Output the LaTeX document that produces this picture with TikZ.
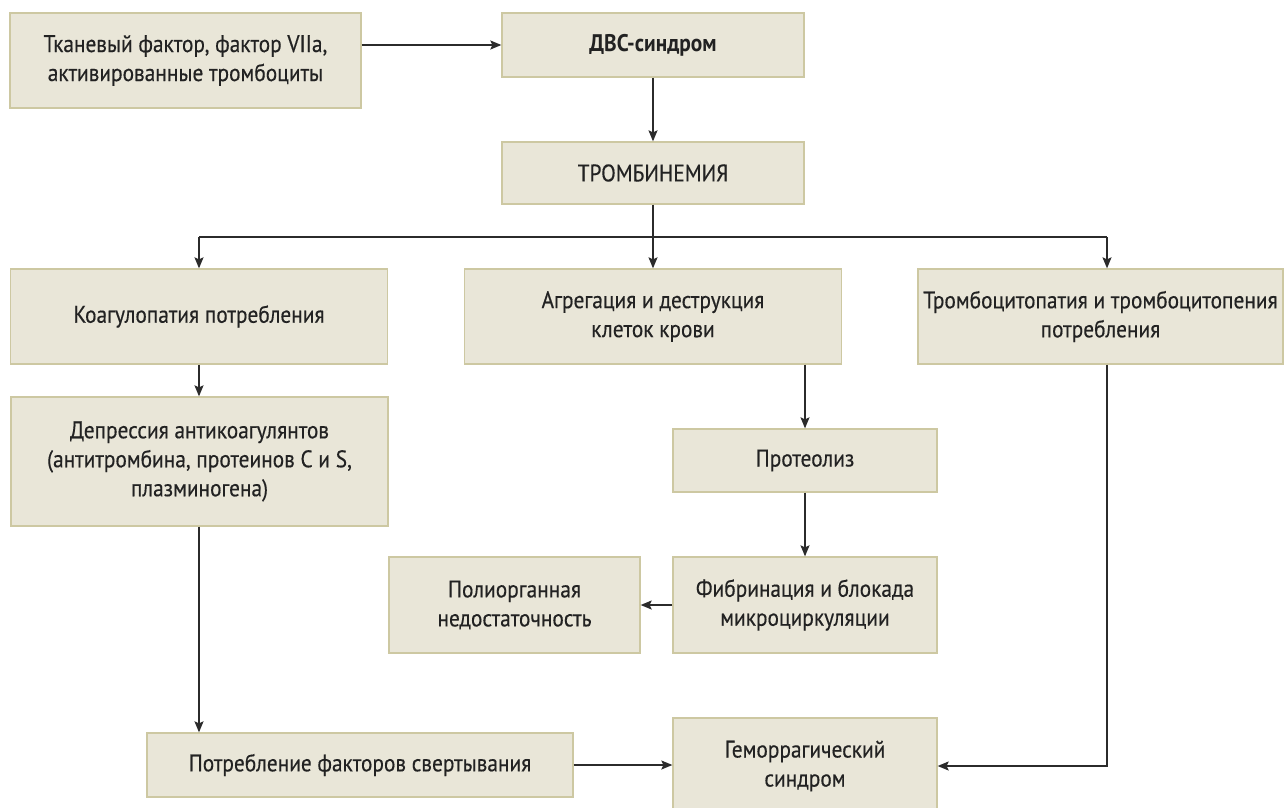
\documentclass[tikz,border=0pt]{standalone}
\usepackage{fontspec}
\setmainfont{PT Sans}[FakeStretch=0.89,FakeBold=0.35,BoldFeatures={FakeBold=0}]
\usetikzlibrary{arrows.meta}
\definecolor{boxfill}{HTML}{E9E6D8}
\definecolor{boxline}{HTML}{CDC8A2}
\definecolor{arrowc}{HTML}{2B2B2B}
\definecolor{textc}{HTML}{222222}
\begin{document}
\begin{tikzpicture}[x=1pt,y=-1pt,
  box/.style={draw=boxline, fill=boxfill, line width=1.3pt, align=center, inner sep=0pt,
    text=textc, font=\fontsize{24}{29}\selectfont},
  conn/.style={draw=arrowc, line width=1.4pt},
  arr/.style={conn, -{Stealth[length=11pt,width=9pt,inset=2pt]}}]
\useasboundingbox (0,0) rectangle (1285,808);
\fill[white] (0,0) rectangle (1285,808);
\begin{scope}
\clip (0,0) rectangle (1285,808);
\node[box, minimum width=351pt, minimum height=95pt] (n1) at (185.5,60.5) {Тканевый фактор, фактор VIIa,\\активированные тромбоциты};
\node[box, minimum width=302pt, minimum height=64pt, font=\fontsize{24}{29}\selectfont\bfseries] (dvs) at (653,45) {ДВС-синдром};
\node[box, minimum width=302pt, minimum height=62pt] (trom) at (653,173) {ТРОМБИНЕМИЯ};
\node[box, minimum width=377pt, minimum height=95pt] (coag) at (199,316.5) {Коагулопатия потребления};
\node[box, minimum width=377pt, minimum height=95pt] (agr) at (653,316.5) {Агрегация и деструкция\\клеток крови};
\node[box, minimum width=365pt, minimum height=95pt] (trc) at (1100.5,316.5) {Тромбоцитопатия и тромбоцитопения\\потребления};
\node[box, minimum width=377pt, minimum height=129pt] (dep) at (199.5,461.5) {Депрессия антикоагулянтов\\(антитромбина, протеинов C и S,\\плазминогена)};
\node[box, minimum width=264pt, minimum height=63pt] (prot) at (805,460.5) {Протеолиз};
\node[box, minimum width=264pt, minimum height=96pt] (fib) at (805,605) {Фибринация и блокада\\микроциркуляции};
\node[box, minimum width=251pt, minimum height=96pt] (pol) at (514.5,605) {Полиорганная\\недостаточность};
\node[box, minimum width=426pt, minimum height=64pt] (potr) at (360,765) {Потребление факторов свертывания};
\node[box, minimum width=264pt, minimum height=96pt] (hem) at (805,766) {Геморрагический\\синдром};
\end{scope}
\coordinate (brL) at (199,237);
\coordinate (brR) at (1107,237);
\coordinate (brM) at (653,237);
\draw[arr] (dvs.west -| n1.east) -- (dvs.west);
\draw[arr] (dvs.south -| brM) -- (trom.north -| brM);
\draw[conn] (trom.south -| brM) -- (brM);
\draw[conn] (brL) -- (brR);
\draw[arr] (brL) -- (brL |- coag.north);
\draw[arr] (brM) -- (brM |- agr.north);
\draw[arr] (brR) -- (brR |- trc.north);
\draw[arr] (brL |- coag.south) -- (brL |- dep.north);
\draw[arr] (prot.north |- agr.south) -- (prot.north);
\draw[arr] (prot.south) -- (fib.north);
\draw[arr] (fib.west) -- (pol.east);
\draw[arr] (brL |- dep.south) -- (brL |- potr.north);
\draw[arr] (potr.east) -- (potr.east -| hem.west);
\draw[arr] (brR |- trc.south) -- (brR |- hem.east) -- (hem.east);
\end{tikzpicture}
\end{document}
